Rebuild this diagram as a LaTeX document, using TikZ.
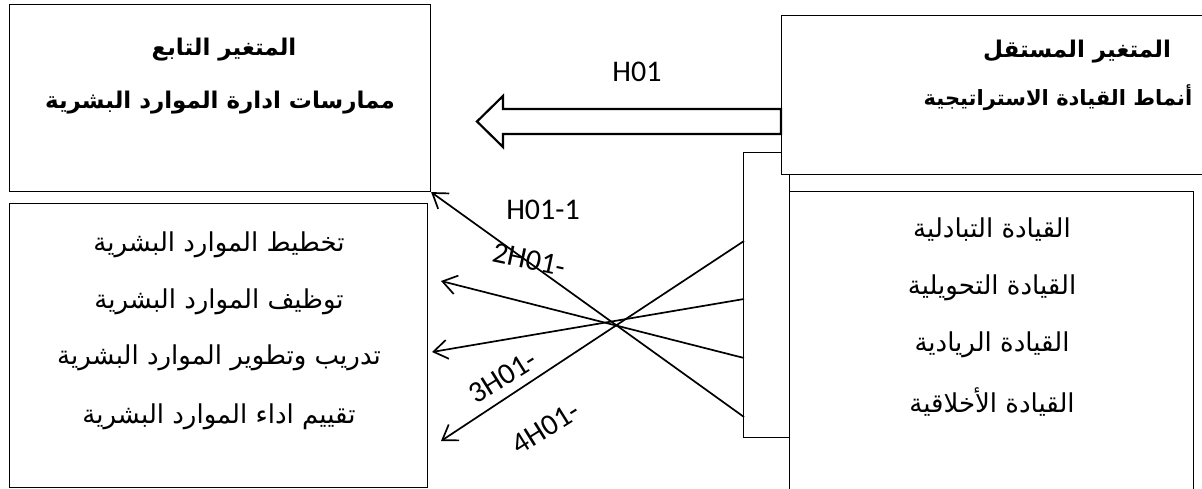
\documentclass[tikz,border=0pt]{standalone}
\usepackage{fontspec}
\setmainfont{Carlito}
\newfontfamily\arabicfont[Script=Arabic]{DejaVu Sans}
\TeXXeTstate=1
\usetikzlibrary{arrows.meta}
\begin{document}
\begin{tikzpicture}[x=1pt,y=-1pt,
  box/.style={draw, line width=1.1pt, fill=white, inner sep=0pt, anchor=north west},
  ar/.style={font=\arabicfont\fontsize{26}{30}\selectfont, inner sep=0pt},
  arb/.style={font=\arabicfont\bfseries\fontsize{23}{27}\selectfont, inner sep=0pt},
  arbs/.style={font=\arabicfont\bfseries\fontsize{21}{25}\selectfont, inner sep=0pt},
  lab/.style={font=\fontsize{30}{36}\selectfont, inner sep=0pt},
  link/.style={line width=1.7pt, -{Straight Barb[length=14pt,width=19pt]}},
  hollow/.style={line width=2.2pt, line join=miter, fill=white}
]
\useasboundingbox (0,0) rectangle (1202,489);
% boxes
\node[box, minimum width=421pt, minimum height=187pt] (A) at (9,4) {};
\node[box, minimum width=418pt, minimum height=284pt] (B) at (9,203) {};
\node[box, minimum width=46pt, minimum height=285pt] (brk) at (743,152) {};
\node[box, minimum width=560pt, minimum height=159pt] (C) at (781,15) {};
\node[box, minimum width=404pt, minimum height=340pt] (D) at (789,191) {};
% texts
\node[arb] (a1) at (224,50) {\beginR المتغير التابع\endR};
\node[arb] (a2) at (220,103) {\beginR ممارسات ادارة الموارد البشرية\endR};
\node[arb] (c1) at (1077,52) {\beginR المتغير المستقل\endR};
\node[arbs] (c2) at (1058,98) {\beginR أنماط القيادة الاستراتيجية\endR};
\node[ar] (b1) at (219,245) {\beginR تخطيط الموارد البشرية\endR};
\node[ar] (b2) at (219,302) {\beginR توظيف الموارد البشرية\endR};
\node[ar] (b3) at (219,358) {\beginR تدريب وتطوير الموارد البشرية\endR};
\node[ar] (b4) at (219,417) {\beginR تقييم اداء الموارد البشرية\endR};
\node[ar] (d1) at (992,230) {\beginR القيادة التبادلية\endR};
\node[ar] (d2) at (992,288) {\beginR القيادة التحويلية\endR};
\node[ar] (d3) at (992,345) {\beginR القيادة الريادية\endR};
\node[ar] (d4) at (992,402) {\beginR القيادة الأخلاقية\endR};
% hollow arrow
\coordinate (hR1) at (781,109);
\coordinate (hR2) at (781,134);
\coordinate (hTip) at (477,121.5);
\draw[hollow] (hR1) -- (503,109) -- (503,96) -- (hTip) -- (503,147) -- (503,134) -- (hR2) -- cycle;
\node[lab] (h0) at (637,72) {H01};
% links
\coordinate (s1) at (744,417);
\coordinate (s2) at (744,358);
\coordinate (s3) at (744,299);
\coordinate (s4) at (744,241);
\coordinate (t2) at (441,281);
\coordinate (t3) at (432,352);
\coordinate (t4) at (441,441);
\draw[link] (s1) -- (A.south east);
\draw[link] (s2) -- (t2);
\draw[link] (s3) -- (t3);
\draw[link] (s4) -- (t4);
\node[lab] (h1) at (543,210) {H01-1};
\node[lab, rotate=-12] (h2) at (529,260) {2H01-};
\node[lab, rotate=32] (h3) at (503,377) {3H01-};
\node[lab, rotate=32] (h4) at (546,428) {4H01-};
\end{tikzpicture}
\end{document}
